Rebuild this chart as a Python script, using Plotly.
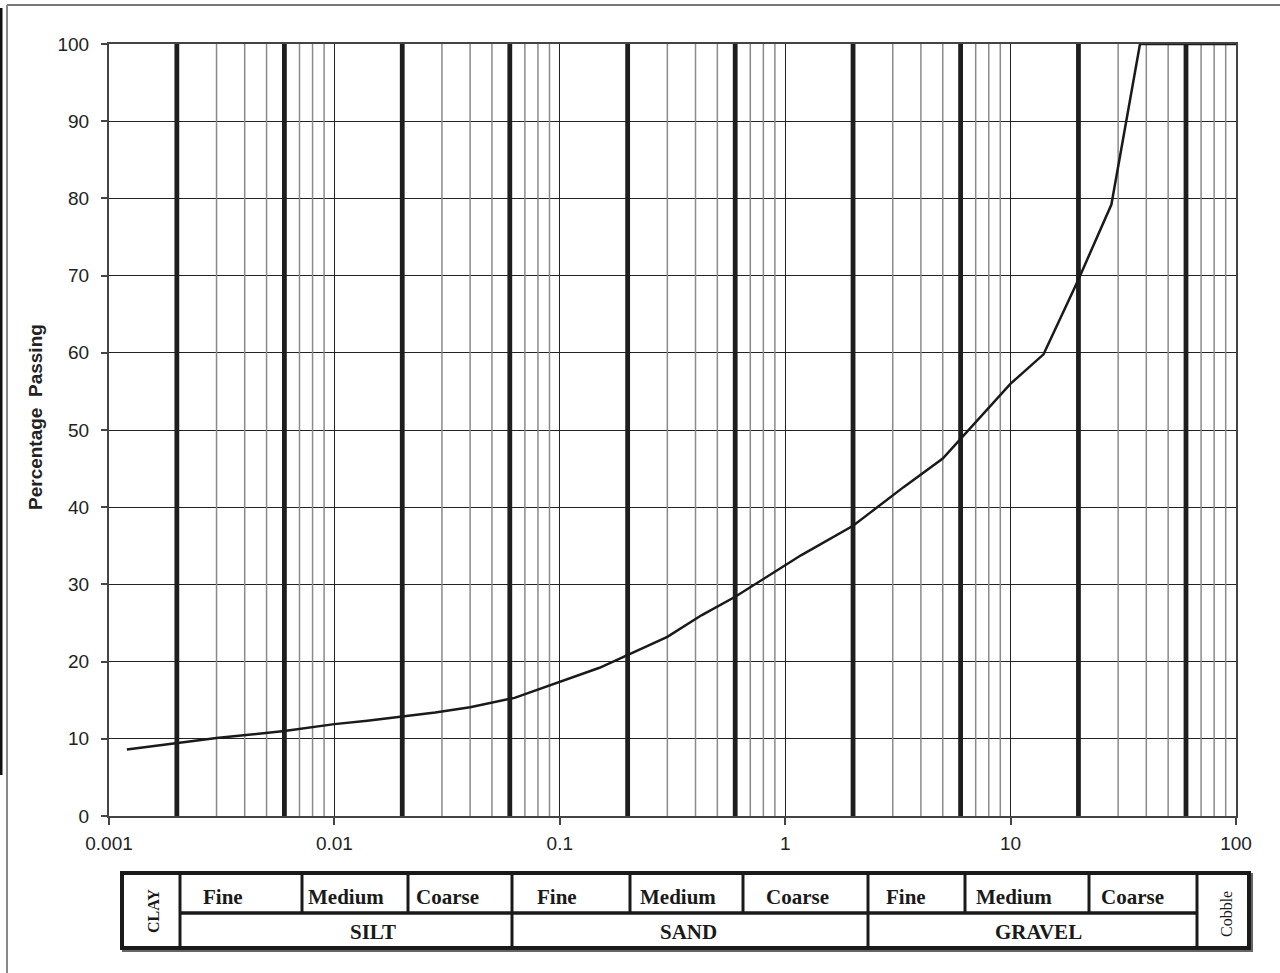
import numpy as np
import plotly.graph_objects as go

# ---- data ----
size_mm = [0.0012, 0.003, 0.006, 0.01, 0.014, 0.02, 0.028, 0.04, 0.063, 0.15, 0.212,
           0.3, 0.425, 0.6, 1.18, 2.0, 2.36, 3.35, 5.0, 6.3, 10, 14, 20, 28, 37.5,
           50, 63, 75, 100]
passing = [8.6, 10.1, 11.0, 11.9, 12.35, 12.9, 13.4, 14.1, 15.3, 19.2, 21.2,
           23.2, 26.0, 28.4, 33.8, 37.6, 39.2, 42.6, 46.3, 49.5, 56.0, 59.8, 69.5, 79.2, 100,
           100, 100, 100, 100]
boundary_mm = [0.002, 0.006, 0.02, 0.06, 0.2, 0.6, 2, 6, 20, 60]
decades = [0.001, 0.01, 0.1, 1, 10, 100]
x_tick_labels = ["0.001", "0.01", "0.1", "1", "10", "100"]
y_ticks = list(range(0, 101, 10))
top_labels = ["Fine", "Medium", "Coarse", "Fine", "Medium", "Coarse", "Fine", "Medium", "Coarse"]
bottom_labels = ["SILT", "SAND", "GRAVEL"]

# ---- layout geometry (pixels) ----
W, H = 1280, 973
L, R, T, B = 109, 44, 44, 157
PW, PH = W - L - R, H - T - B

def px(x):
    return (x - L) / PW

def py(y):
    return (H - B - y) / PH

fig = go.Figure()

# minor gridlines
minor = [m * d for d in decades[:-1] for m in range(2, 10)]
mx, my = [], []
for v in minor:
    mx += [v, v, None]
    my += [0, 100, None]
fig.add_trace(go.Scatter(x=mx, y=my, mode="lines", line=dict(color="#8a8a8a", width=1.5),
                         hoverinfo="skip", showlegend=False))
# thick boundary lines
bx, by = [], []
for v in boundary_mm:
    bx += [v, v, None]
    by += [0, 100, None]
fig.add_trace(go.Scatter(x=bx, y=by, mode="lines", line=dict(color="#1e1e1e", width=4.8),
                         hoverinfo="skip", showlegend=False))
# grading curve
fig.add_trace(go.Scatter(x=size_mm, y=passing, mode="lines", line=dict(color="#1a1a1a", width=2.5),
                         hoverinfo="skip", showlegend=False))

fig.update_xaxes(type="log", range=[-3, 2], tickvals=decades, ticktext=x_tick_labels,
                 showgrid=True, gridcolor="#222", gridwidth=1,
                 showline=True, linecolor="#444", linewidth=2, mirror=True,
                 ticks="outside", ticklen=7, tickcolor="#444", tickwidth=1.5,
                 tickfont=dict(family="Liberation Sans, Arial", size=19, color="#222"),
                 ticklabelstandoff=2, zeroline=False)
fig.update_yaxes(range=[0, 100], tickvals=y_ticks,
                 showgrid=True, gridcolor="#222", gridwidth=1.2,
                 showline=True, linecolor="#444", linewidth=2, mirror=True,
                 ticks="outside", ticklen=6, tickcolor="#444", tickwidth=1.5,
                 tickfont=dict(family="Liberation Sans, Arial", size=19, color="#222"),
                 ticklabelstandoff=8, zeroline=False)

shapes = []
annotations = []

# frame lines
shapes.append(dict(type="line", xref="paper", yref="paper", x0=px(7), x1=px(1280), y0=py(5), y1=py(5),
                   line=dict(color="#777", width=2)))
shapes.append(dict(type="line", xref="paper", yref="paper", x0=px(7), x1=px(7), y0=py(5), y1=py(973),
                   line=dict(color="#888", width=2)))
shapes.append(dict(type="line", xref="paper", yref="paper", x0=px(1), x1=px(1), y0=py(8), y1=py(775),
                   line=dict(color="#111", width=3)))

# y-axis title
annotations.append(dict(text="<b>Percentage  Passing</b>", xref="paper", yref="paper",
                        x=px(35), y=py(417), textangle=-90, showarrow=False,
                        font=dict(family="Liberation Sans, Arial", size=19, color="#222"),
                        xanchor="center", yanchor="middle"))

# ---- classification table ----
tx0, tx1 = 122, 1249
ty0, tym, ty1 = 873, 913, 948
col_x = [180, 302, 408, 512, 630, 743, 868, 965, 1089, 1197]
group_x = [180, 512, 868, 1197]

lc = "#1a1a1a"
shapes.append(dict(type="rect", xref="paper", yref="paper", x0=px(tx0 + 2), x1=px(tx1 + 2),
                   y0=py(ty0 + 2), y1=py(ty1 + 2), line=dict(color="#666", width=4)))
shapes.append(dict(type="rect", xref="paper", yref="paper", x0=px(tx0), x1=px(tx1),
                   y0=py(ty0), y1=py(ty1), line=dict(color=lc, width=4), fillcolor="white"))
shapes.append(dict(type="line", xref="paper", yref="paper", x0=px(180), x1=px(1197),
                   y0=py(tym), y1=py(tym), line=dict(color=lc, width=3.5)))
for cx in col_x:
    full = cx in group_x
    shapes.append(dict(type="line", xref="paper", yref="paper", x0=px(cx), x1=px(cx),
                       y0=py(ty0), y1=py(ty1 if full else tym), line=dict(color=lc, width=3)))

top_cx = [223, 346, 447, 557, 678, 797, 906, 1014, 1132]
for lab, cx in zip(top_labels, top_cx):
    annotations.append(dict(text="<b>%s</b>" % lab, xref="paper", yref="paper",
                            x=px(cx), y=py(897), showarrow=False,
                            font=dict(family="Liberation Serif, Times New Roman", size=21, color="#1a1a1a"),
                            xanchor="center", yanchor="middle"))
bot_cx = [373, 688, 1038]
for lab, cx in zip(bottom_labels, bot_cx):
    annotations.append(dict(text="<b>%s</b>" % lab, xref="paper", yref="paper",
                            x=px(cx), y=py(932), showarrow=False,
                            font=dict(family="Liberation Serif, Times New Roman", size=21, color="#1a1a1a"),
                            xanchor="center", yanchor="middle"))
annotations.append(dict(text="<b>CLAY</b>", xref="paper", yref="paper", x=px(153), y=py(911),
                        textangle=-90, showarrow=False,
                        font=dict(family="Liberation Serif, Times New Roman", size=16, color="#1a1a1a"),
                        xanchor="center", yanchor="middle"))
annotations.append(dict(text="Cobble", xref="paper", yref="paper", x=px(1226), y=py(914),
                        textangle=-90, showarrow=False,
                        font=dict(family="Liberation Serif, Times New Roman", size=16, color="#1a1a1a"),
                        xanchor="center", yanchor="middle"))

fig.update_layout(width=W, height=H, autosize=False,
                  margin=dict(l=L, r=R, t=T, b=B, pad=0),
                  paper_bgcolor="white", plot_bgcolor="white",
                  shapes=shapes, annotations=annotations, showlegend=False)

fig.write_html("out.html")
